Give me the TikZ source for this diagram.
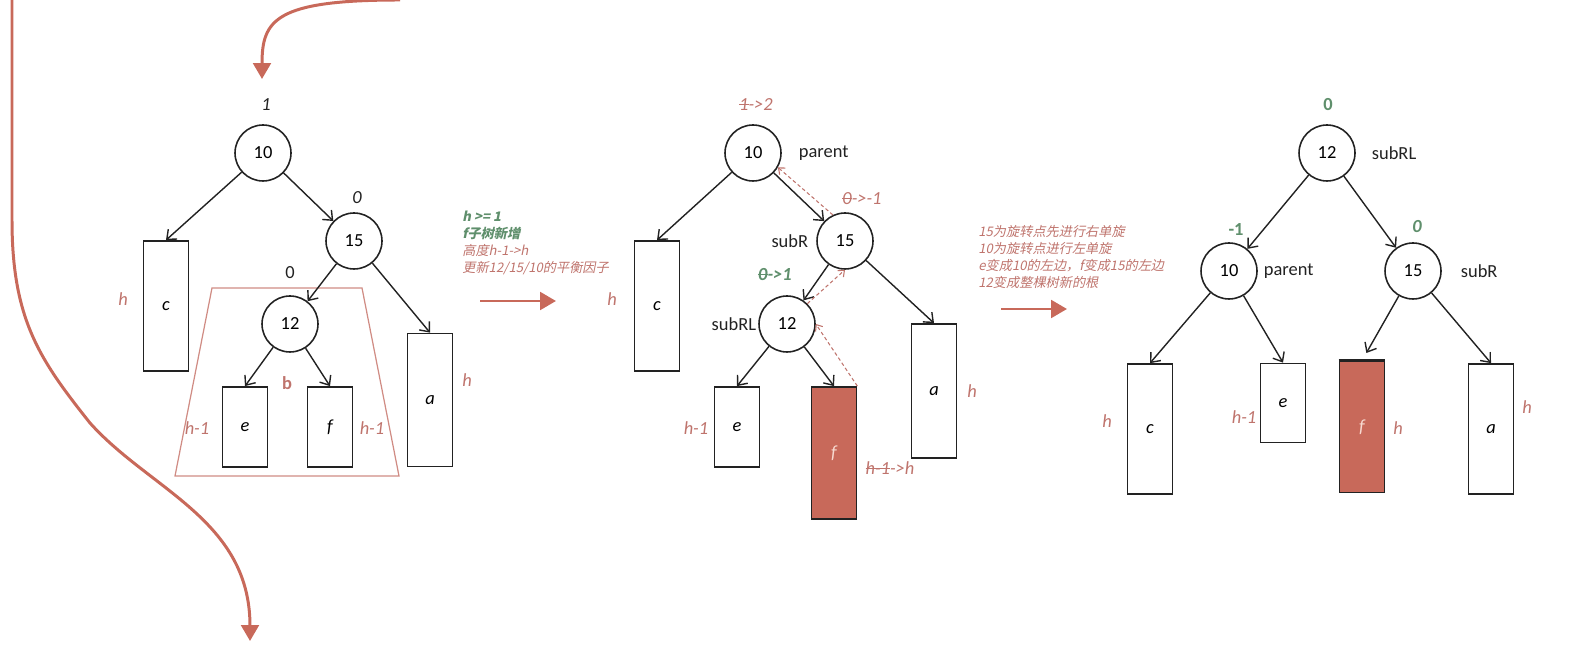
\documentclass[tikz,border=0pt]{standalone}
\usepackage{fontspec}
\usepackage{xcolor}
\usepackage{tikz}
\usetikzlibrary{arrows.meta, positioning, shapes.geometric}
\setmainfont{Carlito}
\newfontfamily\cjk[FakeSlant=0.2]{Noto Sans CJK SC}
\definecolor{brick}{HTML}{C8695A}
\definecolor{rose}{HTML}{BF746D}
\definecolor{sage}{HTML}{5F8F6C}
\definecolor{trapline}{HTML}{D08C84}
\definecolor{fpale}{HTML}{F7D9D0}
\definecolor{ink}{HTML}{222222}
\newcommand{\treefont}{\fontsize{10.5}{12}\selectfont}
\newcommand{\strk}[1]{\leavevmode\setbox0\hbox{#1}\rlap{\copy0}\rule[0.3em]{\wd0}{0.07em}}
\tikzset{
  keynode/.style={
    circle, draw=ink, line width=0.9pt,
    minimum size=1.12cm, inner sep=0pt, font=\treefont,
  },
  subtree/.style={
    rectangle, draw=ink, line width=1pt,
    minimum width=0.9cm, inner sep=0pt, font=\treefont\itshape,
  },
  grown/.style={subtree, fill=brick, text=fpale},
  link/.style={-{Straight Barb[length=4.5pt,width=7.5pt]}, line width=0.8pt, draw=ink},
  backptr/.style={-{Straight Barb[length=3pt,width=5pt]}, dash pattern=on 2pt off 1.5pt, line width=0.6pt, draw=rose},
  bigarrow/.style={-{Triangle[length=9pt,width=10pt]}, line width=1.7pt, draw=brick},
  trap/.style={draw=trapline, line width=0.7pt},
  plainbal/.style={font=\treefont, text=ink, inner sep=1pt},
  bal/.style={font=\treefont\itshape, text=rose, inner sep=1pt},
  newbal/.style={font=\treefont\bfseries, text=sage, inner sep=1pt},
  hgt/.style={font=\treefont\itshape, text=rose, inner sep=1pt},
  role/.style={font=\treefont, text=ink, inner sep=1pt},
  memo/.style={font=\cjk\fontsize{7.5}{9.6}\selectfont, text=rose, align=left, anchor=west, inner sep=0pt},
}

\begin{document}
\begin{tikzpicture}[x=0.02cm, y=-0.02cm]
  \useasboundingbox (0,0) rectangle (1585,651);

  % ---- before: insertion under f ----
  \node[keynode] (L10) at (263,153) {10};
  \node[keynode] (L15) at (354,241) {15};
  \node[keynode] (L12) at (290,324) {12};
  \node[subtree, minimum height=2.6cm] (Lc) at (166,306) {c};
  \node[subtree, minimum height=1.6cm] (Le) at (245,427) {e};
  \node[subtree, minimum height=1.6cm] (Lf) at (330,427) {f};
  \node[subtree, minimum height=2.66cm] (La) at (430,400) {a};
  \draw[trap] (212,288) -- (362,288) -- (399,476) -- (175,476) -- cycle;

  \node[plainbal, font=\treefont\itshape] (Lb10) at (266,105) {1};
  \node[plainbal, font=\treefont\itshape] (Lb15) at (357,198) {0};
  \node[plainbal] (Lb12) at (290,273) {0};
  \node[hgt] (Lhc) at (123,299) {h};
  \node[hgt] (Lhe) at (197,428) {h-1};
  \node[hgt] (Lhf) at (372,428) {h-1};
  \node[hgt] (Lha) at (467,380) {h};
  \node[font=\treefont\bfseries, text=rose] (Lsub) at (287,383) {b};

  \draw[link] (L10) -- (Lc.north);
  \draw[link] (L10) -- (L15);
  \draw[link] (L15) -- (L12);
  \draw[link] (L15) -- (La.north);
  \draw[link] (L12) -- (Le.north);
  \draw[link] (L12) -- (Lf.north);

  % ---- after insertion: factors updated ----
  \node[keynode] (M10) at (753,153) {10};
  \node[keynode] (M15) at (845,241) {15};
  \node[keynode] (M12) at (787,324) {12};
  \node[subtree, minimum height=2.6cm] (Mc) at (657,306) {c};
  \node[subtree, minimum height=1.6cm] (Me) at (737,427) {e};
  \node[grown, minimum height=2.64cm] (Mf) at (834,453) {f};
  \node[subtree, minimum height=2.68cm] (Ma) at (934,391) {a};

  \node[role, right=0.3cm of M10] (Mparent) {parent};
  \node[role, left=0.12cm of M15] (MsubR) {subR};
  \node[role, left=0pt of M12] (MsubRL) {subRL};
  \node[bal] (Mb10) at (756,105) {\strk{1}->2};
  \node[bal] (Mb15) at (862,199) {\strk{0}->-1};
  \node[newbal, font=\treefont\bfseries\itshape] (Mb12) at (775,275) {\strk{0}->1};
  \node[hgt] (Mhc) at (612,299) {h};
  \node[hgt] (Mhe) at (696,428) {h-1};
  \node[hgt] (Mhf) at (890,468) {\strk{h-1}->h};
  \node[hgt] (Mha) at (972,391) {h};

  \draw[link] (M10) -- (Mc.north);
  \draw[link] (M10) -- (M15);
  \draw[link] (M15) -- (M12);
  \draw[link] (M15) -- (Ma.north);
  \draw[link] (M12) -- (Me.north);
  \draw[link] (M12) -- (Mf.north);
  \draw[backptr] (Mf.north east) -- (M12.east);
  \draw[backptr] (M12.north east) -- (M15.south);
  \draw[backptr] (M15.115) -- (M10.-30);

  % ---- after double rotation ----
  \node[keynode] (R12) at (1327,153) {12};
  \node[keynode] (R10) at (1229,271) {10};
  \node[keynode] (R15) at (1413,271) {15};
  \node[subtree, minimum height=2.6cm] (Rc) at (1150,429) {c};
  \node[subtree, minimum height=1.58cm] (Re) at (1283,403) {e};
  \node[grown, minimum height=2.62cm] (Rf) at (1362,427) {f};
  \node[subtree, minimum height=2.6cm] (Ra) at (1491,429) {a};
  \draw[line width=2pt, draw=ink] (Rf.north west) -- (Rf.north east);

  \node[role, right=0.28cm of R12] (RsubRL) {subRL};
  \node[role, right=0.08cm of R10] (Rparent) {parent};
  \node[role, right=0.34cm of R15] (RsubR) {subR};
  \node[newbal] (Rb12) at (1328,105) {0};
  \node[newbal] (Rb10) at (1236,230) {-1};
  \node[newbal, font=\treefont\bfseries\itshape] (Rb15) at (1417,227) {0};
  \node[hgt] (Rhc) at (1107,421) {h};
  \node[hgt] (Rhe) at (1244,417) {h-1};
  \node[hgt] (Rhf) at (1398,428) {h};
  \node[hgt] (Rha) at (1527,407) {h};

  \draw[link] (R12) -- (R10);
  \draw[link] (R12) -- (R15);
  \draw[link] (R10) -- (Rc.north);
  \draw[link] (R10) -- (Re.north);
  \draw[link, shorten >=5pt] (R15) -- (Rf.north);
  \draw[link] (R15) -- (Ra.north);

  % ---- notes and step arrows ----
  \node[memo] (memoA) at (462,243) {{\color{sage}\bfseries h >= 1}\\{\color{sage}\bfseries f子树新增}\\高度h-1->h\\更新12/15/10的平衡因子};
  \node[memo] (memoB) at (978,257) {15为旋转点先进行右单旋\\10为旋转点进行左单旋\\e变成10的左边，f变成15的左边\\12变成整棵树新的根};

  \coordinate (stepAin) at (480,301);
  \coordinate (stepAout) at (556,301);
  \coordinate (stepBin) at (1001,309);
  \coordinate (stepBout) at (1067,309);
  \draw[bigarrow] (stepAin) -- (stepAout);
  \draw[bigarrow] (stepBin) -- (stepBout);

  \coordinate (topin) at (400,0);
  \coordinate (topout) at (262,79);
  \draw[bigarrow] (topin) .. controls (275,0) and (262,20) .. (topout);
  \coordinate (leftin) at (12,0);
  \coordinate (leftbend) at (12,220);
  \coordinate (leftmid) at (90,423);
  \coordinate (leftout) at (250,641);
  \draw[bigarrow] (leftin) -- (leftbend) .. controls (12,320) and (40,360) .. (leftmid)
    .. controls (150,490) and (250,520) .. (leftout);

\end{tikzpicture}
\end{document}
